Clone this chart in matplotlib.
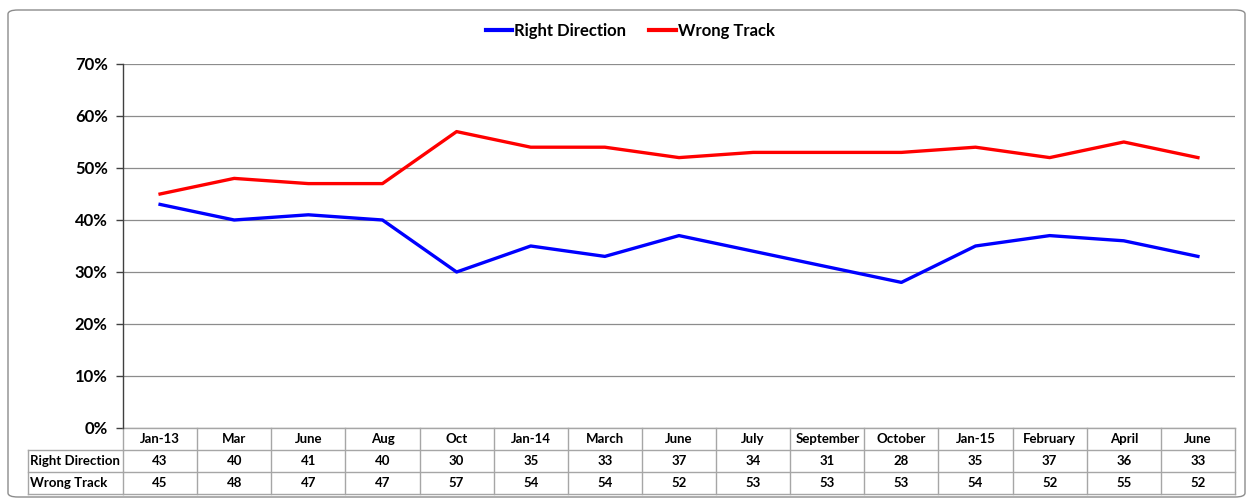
import matplotlib
matplotlib.use("Agg")
import matplotlib.pyplot as plt
from matplotlib.patches import FancyBboxPatch
from matplotlib.lines import Line2D
import matplotlib.transforms as mtransforms

categories = ["Jan-13", "Mar", "June", "Aug", "Oct", "Jan-14", "March", "June",
              "July", "September", "October", "Jan-15", "February", "April", "June"]
right_direction = [43, 40, 41, 40, 30, 35, 33, 37, 34, 31, 28, 35, 37, 36, 33]
wrong_track = [45, 48, 47, 47, 57, 54, 54, 52, 53, 53, 53, 54, 52, 55, 52]
series_names = ["Right Direction", "Wrong Track"]
yticks = [0, 10, 20, 30, 40, 50, 60, 70]

plt.rcParams['font.family'] = ['Lato', 'DejaVu Sans']

W, H = 1250, 500
fig = plt.figure(figsize=(W / 100, H / 100), dpi=100)

# chart border
border = FancyBboxPatch((8 / W, 3 / H), 1237 / W, 487 / H,
                        boxstyle="round,pad=0,rounding_size=0.008",
                        transform=fig.transFigure, fill=False,
                        edgecolor="#8c8c8c", linewidth=1.0)
fig.patches.append(border)

L, R, T, B = 123, 1235, 64, 428
ax = fig.add_axes([L / W, 1 - B / H, (R - L) / W, (B - T) / H])

n = len(categories)
x = list(range(n))
rd = [v / 100 for v in right_direction]
wt = [v / 100 for v in wrong_track]
ax.plot(x, rd, color="#0000FF", linewidth=2.4, label=series_names[0], solid_joinstyle="round")
ax.plot(x, wt, color="#FF0000", linewidth=2.4, label=series_names[1], solid_joinstyle="round")

ax.set_xlim(-0.5, n - 0.5)
ax.set_ylim(0, 0.7)
ax.set_yticks([t / 100 for t in yticks])
ax.set_yticklabels([f"{t}%" for t in yticks], fontsize=12, fontweight="bold")
ax.set_xticks([])
ax.yaxis.grid(True, color="#8c8c8c", linewidth=0.9)
ax.set_axisbelow(True)
for s in ["top", "right", "bottom"]:
    ax.spines[s].set_visible(False)
ax.spines["left"].set_color("#404040")
ax.spines["left"].set_linewidth(1.0)
ax.tick_params(axis="y", direction="out", length=5, width=1, color="#404040", pad=6)

# data table below axes
trans = mtransforms.blended_transform_factory(ax.transData, ax.transAxes)
ph = B - T
row_h = 22 / ph
lc = "#a6a6a6"
lw = 1.0
y0 = 0
rows_y = [y0 - row_h * k for k in range(4)]
for k, yy in enumerate(rows_y):
    ax.add_line(Line2D([-0.5, n - 0.5], [yy, yy], transform=trans, color=lc, lw=lw, clip_on=False))
for i in range(n + 1):
    xx = i - 0.5
    ax.add_line(Line2D([xx, xx], [rows_y[0], rows_y[3]], transform=trans, color=lc, lw=lw, clip_on=False))
lab_left = (28 - L) / (R - L)
for k in (1, 2, 3):
    ax.add_line(Line2D([lab_left, 0], [rows_y[k], rows_y[k]], transform=ax.transAxes,
                       color=lc, lw=lw, clip_on=False))
ax.add_line(Line2D([lab_left, lab_left], [rows_y[1], rows_y[3]], transform=ax.transAxes,
                   color=lc, lw=lw, clip_on=False))

fs = 9.5
for i, c in enumerate(categories):
    ax.text(i, (rows_y[0] + rows_y[1]) / 2, c, transform=trans, ha="center", va="center",
            fontsize=fs, fontweight="bold")
    ax.text(i, (rows_y[1] + rows_y[2]) / 2, str(right_direction[i]), transform=trans,
            ha="center", va="center", fontsize=fs, fontweight="bold")
    ax.text(i, (rows_y[2] + rows_y[3]) / 2, str(wrong_track[i]), transform=trans,
            ha="center", va="center", fontsize=fs, fontweight="bold")
ax.text(lab_left + 0.002, (rows_y[1] + rows_y[2]) / 2, series_names[0], transform=ax.transAxes,
        ha="left", va="center", fontsize=fs, fontweight="bold")
ax.text(lab_left + 0.002, (rows_y[2] + rows_y[3]) / 2, series_names[1], transform=ax.transAxes,
        ha="left", va="center", fontsize=fs, fontweight="bold")

leg = fig.legend(loc="center", bbox_to_anchor=(630 / W, 1 - 31 / H), ncol=2, frameon=False,
                 prop={"weight": "bold", "size": 12}, handlelength=1.6, handletextpad=0.1,
                 columnspacing=1.4)
for h in leg.get_lines():
    h.set_linewidth(3)

fig.savefig("out.png", dpi=100)
